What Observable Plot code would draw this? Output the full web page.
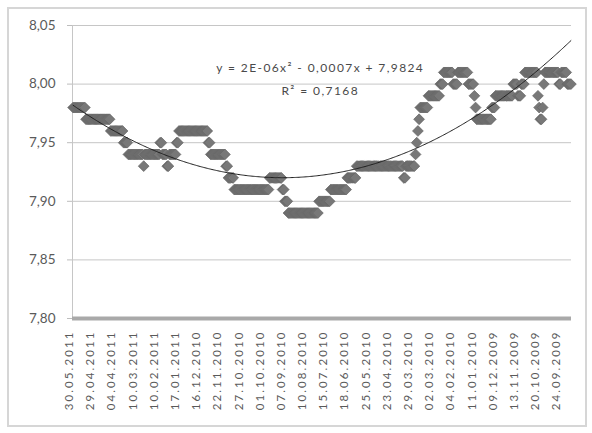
<!DOCTYPE html>
<html><head><meta charset="utf-8">
<script src="https://cdn.jsdelivr.net/npm/d3@7"></script>
<script src="https://cdn.jsdelivr.net/npm/@observablehq/plot@0.6"></script>
<style>
html,body{margin:0;padding:0;background:#fff;}
#wrap{position:relative;width:592px;height:433px;overflow:hidden;background:#fff;}
#wrap svg{position:absolute;left:0;top:0;}
#frame{position:absolute;left:7px;top:7px;width:576px;height:416px;border:2px solid #d6d6d6;pointer-events:none;}
</style></head><body>
<div id="wrap"><div id="frame"></div></div>
<script>
// Category labels (every 18th observation, newest on the left)
const dateLabels = ["30.05.2011","29.04.2011","04.04.2011","10.03.2011","10.02.2011","17.01.2011",
  "16.12.2010","22.11.2010","27.10.2010","01.10.2010","07.09.2010","10.08.2010","15.07.2010",
  "18.06.2010","25.05.2010","23.04.2010","29.03.2010","02.03.2010","04.02.2010","11.01.2010",
  "09.12.2009","13.11.2009","20.10.2009","24.09.2009"];
const labelStep = 18;

const runValues = [7.98,7.97,7.96,7.95,7.94,7.93,7.94,7.95,7.94,7.93,7.94,7.95,7.96,7.95,7.94,7.93,7.92,7.91,7.92,7.91,7.90,7.89,7.90,7.91,7.92,7.93,7.92,7.93,
  7.94,7.95,7.96,7.97,7.98,7.99,8.00,8.01,8.00,8.01,8.00,7.99,7.98,7.97,7.98,7.99,8.00,7.99,8.00,8.01,
  7.99,7.98,7.97,7.98,8.00,8.01,8.00,8.01,8.00];
const runCounts = [11,21,11,4,13,1,13,2,4,2,6,2,25,2,13,2,5,30,11,2,3,26,10,14,8,40,2,8,
  1,1,1,1,7,10,3,8,4,9,5,1,1,13,3,15,4,3,3,11,
  1,1,2,1,1,12,2,5,4];

const yTicks = [7.80, 7.85, 7.90, 7.95, 8.00, 8.05];
const equationText = "y = 2E-06x² - 0,0007x + 7,9824";
const r2Text = "R² = 0,7168";

// ---- build table
const values = runValues.flatMap((v, i) => Array(runCounts[i]).fill(v));
const N = values.length;
const points = values.map((v, i) => ({i, v}));
const labelRows = dateLabels.map((d, k) => ({i: k * labelStep, d}));

// quadratic least-squares trendline (x = 1..N, as the spreadsheet does)
function quadFit(ys) {
  let S = [0,0,0,0,0], T = [0,0,0];
  ys.forEach((y, k) => { const x = k + 1; let p = 1;
    for (let j = 0; j < 5; j++) { S[j] += p; if (j < 3) T[j] += p * y; p *= x; } });
  const A = [[S[0],S[1],S[2],T[0]],[S[1],S[2],S[3],T[1]],[S[2],S[3],S[4],T[2]]];
  for (let c = 0; c < 3; c++) { for (let r = c + 1; r < 3; r++) { const f = A[r][c] / A[c][c];
      for (let k = c; k < 4; k++) A[r][k] -= f * A[c][k]; } }
  const s = [0,0,0];
  for (let r = 2; r >= 0; r--) { let acc = A[r][3]; for (let k = r + 1; k < 3; k++) acc -= A[r][k] * s[k]; s[r] = acc / A[r][r]; }
  return s; // c0, c1, c2
}
const [c0, c1, c2] = quadFit(values);
const trend = points.map(p => ({i: p.i, v: c0 + c1 * (p.i + 1) + c2 * (p.i + 1) ** 2}));

const fmt = d => d.toFixed(2).replace(".", ",");
const diamond = {draw(ctx, size) { const s = Math.sqrt(size / 2);
  ctx.moveTo(0, -s); ctx.lineTo(s, 0); ctx.lineTo(0, s); ctx.lineTo(-s, 0); ctx.closePath(); }};

const chart = Plot.plot({
  width: 592, height: 433,
  marginLeft: 72, marginRight: 21, marginTop: 25, marginBottom: 115,
  x: {domain: [-0.5, N - 0.5], axis: null},
  y: {domain: [7.80, 8.05], axis: null},
  style: {fontFamily: "Lato, 'Noto Sans', sans-serif", background: "transparent"},
  marks: [
    Plot.ruleY(yTicks.slice(1), {stroke: "#c6c6c6", strokeWidth: 1}),
    Plot.axisY(yTicks, {tickSize: 5, tickFormat: () => "", label: null, stroke: "#bdbdbd"}),
    Plot.ruleX([-0.5], {stroke: "#c6c6c6", strokeWidth: 1}),
    Plot.text(yTicks, {y: d => d, text: fmt, frameAnchor: "left", textAnchor: "end", dx: -17, fill: "#5a5a5a", fontSize: 13.5}),
    Plot.ruleY([7.80], {stroke: "#a9a9a9", strokeWidth: 4}),
    Plot.text(labelRows, {x: "i", text: "d", frameAnchor: "bottom", rotate: -90, textAnchor: "end", dy: 12, fill: "#5a5a5a", fontSize: 11.5}),
    Plot.dot(points, {x: "i", y: "v", symbol: diamond, r: 4.3, fill: "#787878", stroke: "#636363", strokeWidth: 0.7}),
    Plot.line(trend, {x: "i", y: "v", stroke: "#1e1e1e", strokeWidth: 1}),
    Plot.text([equationText], {x: [210], y: [8.0138], text: d => d, fill: "#4a4a4a", fontSize: 12}),
    Plot.text([r2Text], {x: [210], y: [7.9943], text: d => d, fill: "#4a4a4a", fontSize: 12})
  ]
});
document.getElementById("wrap").prepend(chart);
chart.querySelectorAll("text").forEach(t => {
  const tr = t.getAttribute("transform") || "";
  if (tr.includes("rotate(-90)")) t.setAttribute("letter-spacing", "2.1");
  if (t.textContent === equationText || t.textContent === r2Text) t.setAttribute("letter-spacing", "1.4");
});
</script>
</body></html>
